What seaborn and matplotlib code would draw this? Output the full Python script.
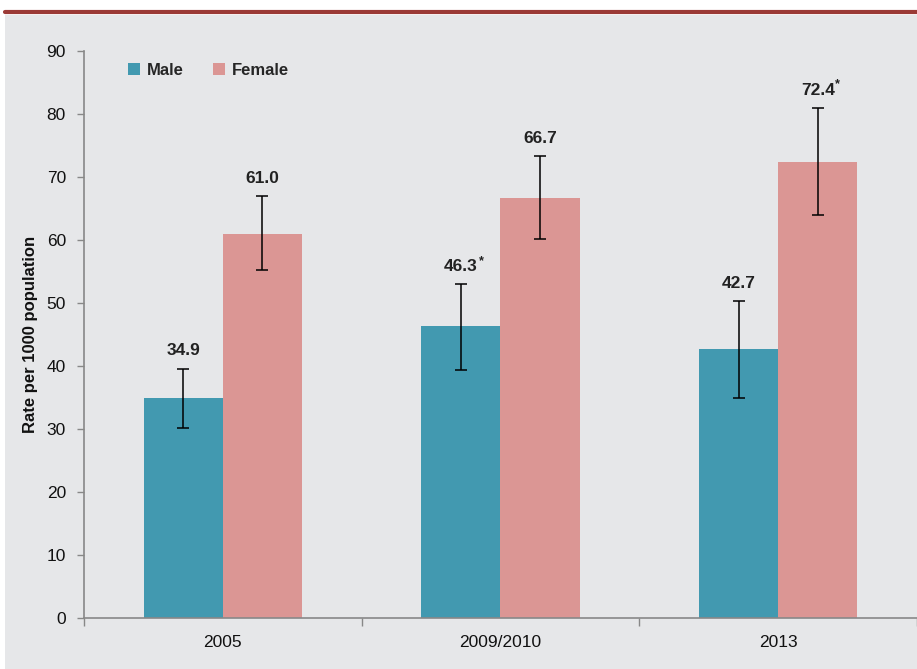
import matplotlib
matplotlib.use("Agg")
import matplotlib.pyplot as plt
from matplotlib.patches import Rectangle
from matplotlib.lines import Line2D
import seaborn as sns
import pandas as pd
import numpy as np

years = ["2005", "2009/2010", "2013"]
male = [34.9, 46.3, 42.7]
female = [61.0, 66.7, 72.4]
male_lo = [30.2, 39.4, 34.9]
male_hi = [39.6, 53.0, 50.3]
female_lo = [55.2, 60.2, 64.0]
female_hi = [67.0, 73.3, 81.0]
male_labels = ["34.9", "46.3", "42.7"]
female_labels = ["61.0", "66.7", "72.4"]
male_star = [False, True, False]
female_star = [False, False, True]
yticks = [0, 10, 20, 30, 40, 50, 60, 70, 80, 90]

sns.set_theme(style="white")
plt.rcParams['font.family'] = ['Liberation Sans', 'DejaVu Sans']

TEAL = "#4299B0"
PINK = "#DB9694"
BG = "#E6E7E9"

df = pd.DataFrame({
    "year": years * 2,
    "sex": ["Male"] * 3 + ["Female"] * 3,
    "rate": male + female,
})

fig = plt.figure(figsize=(9.17, 6.69), dpi=100)
fig.patch.set_facecolor("white")
fig.add_artist(Rectangle((5 / 917, 0), 1, (669 - 15) / 669, transform=fig.transFigure,
                         facecolor=BG, edgecolor="none", zorder=-10))
fig.add_artist(Line2D([5 / 917, 1], [(669 - 12) / 669] * 2, transform=fig.transFigure,
                      color="#9B3A36", lw=3, zorder=-5))

ax = fig.add_axes([84 / 917, 51 / 669, (917 - 84) / 917, (618 - 51) / 669])
ax.set_zorder(1)
ax.set_facecolor(BG)
sns.barplot(data=df, x="year", y="rate", hue="sex", palette=[TEAL, PINK],
            width=0.57, errorbar=None, saturation=1, ax=ax, legend=False, linewidth=0)

bars = ax.patches
vals = [male, female]
los = [male_lo, female_lo]
his = [male_hi, female_hi]
labs = [male_labels, female_labels]
stars = [male_star, female_star]
for s in range(2):
    for i in range(3):
        p = bars[s * 3 + i]
        xc = p.get_x() + p.get_width() / 2
        v = vals[s][i]
        ax.errorbar(xc, v, yerr=[[v - los[s][i]], [his[s][i] - v]], fmt="none",
                    ecolor="black", elinewidth=1.1, capsize=4, capthick=1.1, zorder=5)
        t = ax.text(xc, his[s][i] + 1.6, labs[s][i], ha="center", va="bottom",
                    fontsize=12.5, fontweight="bold", color="#222222")
        if stars[s][i]:
            ax.annotate("*", xy=(1, 1), xycoords=t, xytext=(0.5, 3), textcoords="offset points",
                        ha="left", va="top", fontsize=9, fontweight="bold", color="#222222")

ax.set_ylim(0, 90)
ax.set_xlim(-0.5, 2.5)
ax.set_yticks(yticks)
ax.set_xticks([0, 1, 2])
ax.set_xticklabels(years)
ax.set_xticks([-0.5, 0.5, 1.5, 2.5], minor=True)
ax.tick_params(axis="x", which="major", length=0, pad=12, labelsize=12.5, labelcolor="#111111")
ax.tick_params(axis="x", which="minor", length=6, width=1, color="#888888", direction="out", bottom=True)
ax.tick_params(axis="y", length=5, width=1, color="#888888", direction="out", left=True,
               labelsize=12.5, labelcolor="#111111", pad=8)
ax.set_xlabel("")
ax.set_ylabel("Rate per 1000 population", fontsize=12, fontweight="bold", labelpad=6, color="#111111")
for sp in ["top", "right"]:
    ax.spines[sp].set_visible(False)
for sp in ["left", "bottom"]:
    ax.spines[sp].set_color("#888888")
    ax.spines[sp].set_linewidth(1.2)

handles = [Rectangle((0, 0), 1, 1, facecolor=TEAL, edgecolor="none"),
           Rectangle((0, 0), 1, 1, facecolor=PINK, edgecolor="none")]
leg = ax.legend(handles, ["Male", "Female"], loc="upper left", bbox_to_anchor=(0.035, 1.005),
                ncol=2, frameon=False, handlelength=0.7, handleheight=0.7, handletextpad=0.4,
                columnspacing=1.8, prop={"weight": "bold", "size": 12})

fig.savefig("out.png", dpi=100, facecolor="white")
